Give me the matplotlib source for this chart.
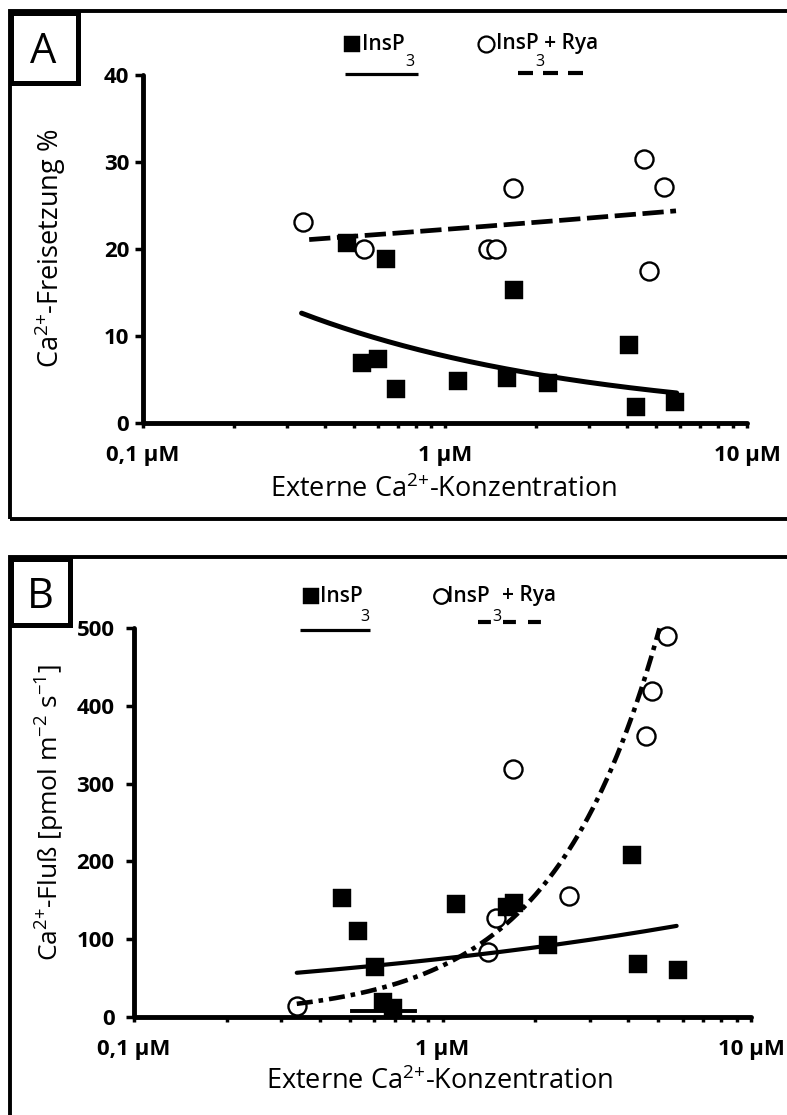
import matplotlib
matplotlib.use('Agg')
import matplotlib.pyplot as plt
import numpy as np
from matplotlib.lines import Line2D
from matplotlib.patches import Rectangle
from matplotlib.ticker import FixedLocator, NullFormatter

plt.rcParams['font.family'] = ['Open Sans', 'DejaVu Sans']
plt.rcParams['mathtext.fontset'] = 'custom'
plt.rcParams['mathtext.rm'] = 'Open Sans'
plt.rcParams['mathtext.it'] = 'Open Sans:italic'
plt.rcParams['mathtext.bf'] = 'Open Sans:bold'

W, H, DPI = 787, 1115, 100

# ---------------- data ----------------
x_ticks = [0.1, 1, 10]
x_tick_labels = ['0,1 µM', '1 µM', '10 µM']
x_minor = [0.2, 0.3, 0.4, 0.5, 0.6, 0.7, 0.8, 0.9, 2, 3, 4, 5, 6, 7, 8, 9]

# Panel A: Ca2+-Freisetzung %
a_yticks = [0, 10, 20, 30, 40]
a_insp3_x = [0.473, 0.531, 0.600, 0.638, 0.688, 1.10, 1.60, 1.69, 2.19, 4.07, 4.29, 5.78]
a_insp3_y = [20.7, 6.9, 7.4, 18.9, 3.9, 4.8, 5.2, 15.3, 4.6, 9.0, 1.8, 2.4]
a_rya_x = [0.339, 0.54, 1.39, 1.47, 1.68, 4.56, 4.74, 5.31]
a_rya_y = [23.1, 20.0, 20.0, 20.0, 27.0, 30.3, 17.5, 27.1]
# trend lines (power law y = a * x^b, drawn from x0 to x1)
a_trend_insp3 = (7.69, -0.4535, 0.335, 5.85)
a_trend_rya = (22.25, 0.052, 0.355, 5.82)

# Panel B: Ca2+-Fluss
b_yticks = [0, 100, 200, 300, 400, 500]
b_insp3_x = [0.472, 0.532, 0.604, 0.641, 0.690, 1.106, 1.62, 1.71, 2.20, 4.11, 4.30, 5.80]
b_insp3_y = [153, 111, 64, 19, 11, 145, 141, 147, 92, 208, 68, 60]
b_rya_x = [0.337, 1.40, 1.49, 1.69, 2.57, 4.57, 4.79, 5.34]
b_rya_y = [14, 83, 127, 319, 156, 361, 419, 490]
b_bar_x = [0.509, 0.814]
b_bar_y = [7.7, 7.7]
b_trend_insp3 = (75.0, 0.255, 0.337, 5.74)
b_trend_rya = (66.0, 1.25, 0.337, 5.05)

# ---------------- figure ----------------
fig = plt.figure(figsize=(W / DPI, H / DPI), dpi=DPI)


def fx(px):
    return px / W


def fy(py):
    return 1 - py / H


def frame_rect(x0, y0, x1, y1, lw):
    r = Rectangle((fx(x0), fy(y1)), (x1 - x0) / W, (y1 - y0) / H,
                  transform=fig.transFigure, fill=False, edgecolor='black',
                  linewidth=lw, clip_on=False)
    fig.add_artist(r)


def trend(ax, params, **kw):
    a, b, x0, x1 = params
    xs = np.geomspace(x0, x1, 300)
    ax.plot(xs, a * xs ** b, color='black', zorder=3, clip_on=False, **kw)


def style_axes(ax, ylim, yticks, ypad):
    ax.set_xscale('log')
    ax.set_xlim(0.1, 10)
    ax.set_ylim(*ylim)
    for s in ('top', 'right'):
        ax.spines[s].set_visible(False)
    for s in ('left', 'bottom'):
        ax.spines[s].set_linewidth(3.5)
        ax.spines[s].set_capstyle('round')
    ax.set_yticks(yticks, [str(t) for t in yticks], fontsize=16, fontweight='bold')
    ax.set_xticks(x_ticks, x_tick_labels, fontsize=16, fontweight='bold')
    ax.xaxis.set_minor_locator(FixedLocator(x_minor))
    ax.xaxis.set_minor_formatter(NullFormatter())
    ax.tick_params(axis='y', direction='out', length=6, width=2.5, pad=ypad)
    ax.tick_params(axis='x', which='both', direction='out', length=3.5, width=2.5, pad=12)
    ax.set_facecolor('none')


def markers(ax, sx, sy, cx, cy):
    ax.plot(cx, cy, linestyle='none', marker='o', ms=13, mfc='white', mec='black',
            mew=1.7, zorder=2, clip_on=False)
    ax.plot(sx, sy, linestyle='none', marker='s', ms=13.5, mfc='black', mec='black',
            mew=0.3, zorder=4, clip_on=False)


# ---- Panel A ----
axA = fig.add_axes([fx(143), fy(423), (747 - 143) / W, (423 - 75) / H])
style_axes(axA, (0, 40), a_yticks, 4)
trend(axA, a_trend_insp3, lw=3.6, solid_capstyle='round')
trend(axA, a_trend_rya, lw=3.4, linestyle=(0, (4.5, 1.4)), dash_capstyle='butt')
markers(axA, a_insp3_x, a_insp3_y, a_rya_x, a_rya_y)

# ---- Panel B ----
axB = fig.add_axes([fx(134), fy(1017), (751 - 134) / W, (1017 - 628) / H])
style_axes(axB, (0, 500), b_yticks, 8)
trend(axB, b_trend_insp3, lw=3.0, solid_capstyle='round')
trend(axB, b_trend_rya, lw=3.3, linestyle=(0, (3.5, 1.3, 1.0, 1.3)), dash_capstyle='butt')
markers(axB, b_insp3_x, b_insp3_y, b_rya_x, b_rya_y)
axB.plot(b_bar_x, b_bar_y, color='black', lw=2.8, zorder=3, clip_on=False)

# ---- axis labels ----
SUP2 = '$^{\\mathregular{2{+}}}$'
fig.text(fx(50), fy(248), 'Ca' + SUP2 + '-Freisetzung %', rotation=90,
         ha='center', va='center', fontsize=19.5)
fig.text(fx(444), fy(490), 'Externe Ca' + SUP2 + '-Konzentration',
         ha='center', va='center', fontsize=19.5)
fig.text(fx(50), fy(813), 'Ca' + SUP2 + '-Fluß [pmol m$^{\\mathregular{-2}}$ s$^{\\mathregular{-1}}$]',
         rotation=90, ha='center', va='center', fontsize=19)
fig.text(fx(440), fy(1082), 'Externe Ca' + SUP2 + '-Konzentration',
         ha='center', va='center', fontsize=19.5)

# ---- frames and panel letters ----
frame_rect(10, 11.5, 820, 519, 2.8)
frame_rect(10, 557, 820, 1140, 2.8)
frame_rect(10.5, 12.5, 77.5, 82.5, 3.6)
frame_rect(10.5, 559, 69.5, 625, 3.6)
fig.text(fx(43), fy(52), 'A', ha='center', va='center', fontsize=30)
fig.text(fx(40), fy(597), 'B', ha='center', va='center', fontsize=30)


# ---- legends ----
def leg_line(x0, x1, y, **kw):
    fig.add_artist(Line2D([fx(x0), fx(x1)], [fy(y), fy(y)], transform=fig.transFigure,
                          color='black', **kw))


def leg_marker(x, y, **kw):
    fig.add_artist(Line2D([fx(x)], [fy(y)], transform=fig.transFigure, linestyle='none', **kw))


def leg_text(x, y, s, size=15, weight='semibold'):
    fig.text(fx(x), fy(y), s, ha='left', va='center', fontsize=size, fontweight=weight)


# A legend
leg_marker(352, 44, marker='s', ms=11.5, mfc='black', mec='black', mew=0.3)
leg_text(362, 44, 'InsP')
leg_text(405, 62, '3', 11.5, 'normal')
leg_line(345, 418, 74, lw=2.3, solid_capstyle='butt')
leg_marker(486, 44, marker='o', ms=11.5, mfc='white', mec='black', mew=1.6)
leg_text(496, 44, 'InsP + Rya')
leg_text(535, 62, '3', 11.5, 'normal')
leg_line(518, 583, 73, lw=3.0, linestyle=(0, (3.6, 2.4)), dash_capstyle='butt')

# B legend
leg_marker(311, 596, marker='s', ms=11, mfc='black', mec='black', mew=0.3)
leg_text(320, 596, 'InsP')
leg_text(360, 617, '3', 11.5, 'normal')
leg_line(300, 370, 630, lw=2.3, solid_capstyle='butt')
leg_marker(441, 596, marker='o', ms=10.5, mfc='white', mec='black', mew=1.6)
leg_text(447, 596, 'InsP')
leg_text(492, 617, '3', 11.5, 'normal')
leg_text(502, 596, '+ Rya')
leg_line(478, 542, 622, lw=3.0, linestyle=(0, (3.1, 2.9)), dash_capstyle='butt')

fig.savefig('out.png', dpi=DPI)
